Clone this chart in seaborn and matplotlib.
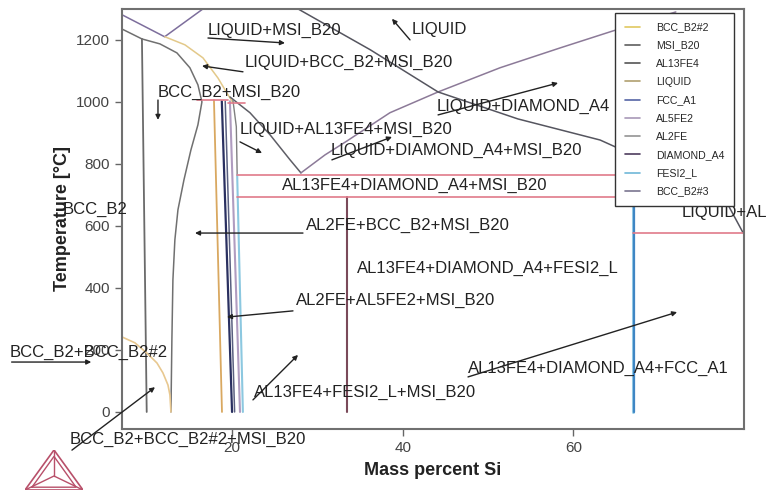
import numpy as np
import pandas as pd
import seaborn as sns
import matplotlib.pyplot as plt
from matplotlib.lines import Line2D

# ---- phase boundaries (mass percent Si, temperature in C) ----
liq_top_left_x = [7.1, 12.1, 16.6]
liq_top_left_y = [1281, 1210, 1300]
bcc_top_x = [7.1, 9.44]
bcc_top_y = [1235, 1203]
bcc_edge_x = [9.44, 10.0]
bcc_edge_y = [1203, 0]
bcc_curve_x = [9.44, 11.55, 13.54, 15.06, 16.0, 16.47, 16.0, 15.18, 14.36, 13.66, 13.3, 13.07, 12.95, 12.84]
bcc_curve_y = [1203, 1187, 1158, 1110, 1055, 1000, 926, 845, 748, 652, 555, 426, 232, 0]
bcc2_top_x = [12.13, 14.48, 16.59, 18.35, 19.52, 20.1]
bcc2_top_y = [1210, 1184, 1142, 1077, 1023, 997]
bcc2_low_x = [7.1, 8.62, 10.02, 11.2, 11.9, 12.49, 12.72, 12.84]
bcc2_low_y = [242, 223, 190, 158, 126, 87, 55, 0]
v_left_x = [19.75, 22.1, 24.45, 26.8, 28.07]
v_left_y = [1016, 965, 894, 813, 771]
diamond_liq_x = [28.07, 30.89, 33.47, 38.5, 44.14, 51.4, 58.44, 64.65, 72.0]
diamond_liq_y = [771, 829, 874, 965, 1032, 1110, 1174, 1229, 1290]
msi_liq_x = [27.72, 36.2, 44.14, 53.5, 63.13, 64.9, 78.0, 79.9]
msi_liq_y = [1300, 1168, 1032, 945, 877, 855, 674, 577]
near20_grey_x = [20.1, 20.5, 20.6]
near20_grey_y = [1006, 920, 765]

# vertical-ish compound lines near 20 % Si
orange_x = [17.88, 18.82]
orange_y = [1006, 0]
navy_x = [18.8, 20.0]
navy_y = [1002, 0]
slate_x = [19.2, 20.3]
slate_y = [1002, 0]
lavender_x = [19.75, 20.93]
lavender_y = [1002, 0]
fesi_x = [20.6, 21.27]
fesi_y = [765, 0]
al13_x = [33.5, 33.5]
al13_y = [694, 0]
si_x = [66.95, 66.95]
si_y = [765, 0]
si2_x = [67.15, 67.15]
si2_y = [765, 0]

# invariant (horizontal) lines
inv1_x = [15.9, 19.5]
inv1_y = [1006, 1006]
inv2_x = [19.5, 21.5]
inv2_y = [995, 995]
inv3_x = [20.6, 67.0]
inv3_y = [765, 765]
inv4_x = [20.6, 67.0]
inv4_y = [694, 694]
inv5_x = [67.0, 80.0]
inv5_y = [577, 577]

segments = [
    (liq_top_left_x, liq_top_left_y, "#7d6e9c", 1.1),
    (bcc_top_x, bcc_top_y, "#707070", 1.1),
    (bcc_edge_x, bcc_edge_y, "#6a6a6a", 1.3),
    (bcc_curve_x, bcc_curve_y, "#707070", 1.1),
    (bcc2_top_x, bcc2_top_y, "#e3c98a", 1.1),
    (bcc2_low_x, bcc2_low_y, "#e8c890", 1.2),
    (v_left_x, v_left_y, "#5e5e66", 1.1),
    (diamond_liq_x, diamond_liq_y, "#8c7a98", 1.1),
    (msi_liq_x, msi_liq_y, "#55555f", 1.1),
    (near20_grey_x, near20_grey_y, "#808080", 1.0),
    (orange_x, orange_y, "#d9a860", 1.3),
    (navy_x, navy_y, "#2a3060", 1.6),
    (slate_x, slate_y, "#5a6080", 1.1),
    (lavender_x, lavender_y, "#b09cc0", 1.5),
    (fesi_x, fesi_y, "#8cc8e0", 1.5),
    (al13_x, al13_y, "#7a4a5a", 1.5),
    (si_x, si_y, "#9bd0e8", 2.2),
    (si2_x, si2_y, "#3f86c4", 1.6),
    (inv1_x, inv1_y, "#e07a8a", 1.2),
    (inv2_x, inv2_y, "#e07a8a", 1.2),
    (inv3_x, inv3_y, "#e07a8a", 1.2),
    (inv4_x, inv4_y, "#e07a8a", 1.2),
    (inv5_x, inv5_y, "#e07a8a", 1.2),
]

# ---- region labels: text, left x, center y ----
label_text = ["LIQUID+MSI_B20", "LIQUID", "LIQUID+BCC_B2+MSI_B20", "BCC_B2+MSI_B20",
              "LIQUID+AL13FE4+MSI_B20", "LIQUID+DIAMOND_A4", "LIQUID+DIAMOND_A4+MSI_B20",
              "AL13FE4+DIAMOND_A4+MSI_B20", "BCC_B2", "AL2FE+BCC_B2+MSI_B20", "LIQUID+AL",
              "AL13FE4+DIAMOND_A4+FESI2_L", "AL2FE+AL5FE2+MSI_B20", "BCC_B2+BCC_B2#2",
              "AL13FE4+FESI2_L+MSI_B20", "AL13FE4+DIAMOND_A4+FCC_A1", "BCC_B2+BCC_B2#2+MSI_B20"]
label_x = [17.18, 41.09, 21.52, 11.32, 20.93, 44.02, 31.6, 25.85, 0.19, 28.66, 72.73,
           34.64, 27.49, -6.03, 22.57, 47.65, 1.0]
label_y = [1232, 1232, 1126, 1032, 910, 984, 842, 732, 652, 603, 642,
           464, 361, 193, 64, 142, -90]

# ---- pointer arrows: tail -> head ----
arrow_x0 = [17.18, 40.85, 21.28, 11.32, 20.93, 44.14, 31.7, 28.31, 27.14, -5.83, 22.45, 47.65, 1.24]
arrow_y0 = [1206, 1200, 1097, 1006, 871, 958, 813, 577, 326, 161, 39, 113, -123]
arrow_x1 = [26.2, 38.74, 16.48, 11.32, 23.51, 58.2, 38.74, 15.66, 19.4, 3.5, 27.73, 72.15, 10.97]
arrow_y1 = [1190, 1268, 1116, 942, 835, 1061, 887, 577, 306, 161, 184, 322, 80]

# ---- legend ----
legend_names = ["BCC_B2#2", "MSI_B20", "AL13FE4", "LIQUID", "FCC_A1",
                "AL5FE2", "AL2FE", "DIAMOND_A4", "FESI2_L", "BCC_B2#3"]
legend_colors = ["#e0c860", "#5f5f5f", "#555555", "#b0a070", "#5565a5",
                 "#a898b8", "#949494", "#4e3c5e", "#70b8d8", "#7a7590"]

sns.set_style("white")
plt.rcParams["font.family"] = ["Liberation Sans", "DejaVu Sans"]

fig = plt.figure(figsize=(7.69, 4.92), dpi=100)
ax = fig.add_axes([0.1586, 0.128, 0.809, 0.854])

for xs, ys, c, lw in segments:
    sns.lineplot(x=xs, y=ys, sort=False, estimator=None, color=c, linewidth=lw, ax=ax)

for t, x, y in zip(label_text, label_x, label_y):
    ax.text(x, y, t, fontsize=12, color="#222222", va="center", ha="left", zorder=5)

for x0, y0, x1, y1 in zip(arrow_x0, arrow_y0, arrow_x1, arrow_y1):
    ax.annotate("", xy=(x1, y1), xytext=(x0, y0), annotation_clip=False,
                arrowprops=dict(arrowstyle="-|>", color="#222222", lw=1.0,
                                mutation_scale=7, shrinkA=0, shrinkB=0))

ax.set_xlim(7.1, 80)
ax.set_ylim(-55, 1300)
ax.set_xticks([20, 40, 60])
ax.set_yticks([0, 200, 400, 600, 800, 1000, 1200])
ax.tick_params(axis="both", direction="out", length=5, width=1, color="#666666",
               labelsize=11, labelcolor="#444444")
ax.tick_params(axis="both", which="both", bottom=True, left=True)
for sp in ax.spines.values():
    sp.set_color("#707070")
    sp.set_linewidth(1.5)

ax.set_xlabel("Mass percent Si", fontsize=13, fontweight="bold", color="#222222", labelpad=5)
ax.set_ylabel("Temperature [°C]", fontsize=13, fontweight="bold", color="#222222", labelpad=4)

handles = [Line2D([0], [0], color=c, lw=1.2) for c in legend_colors]
leg = ax.legend(handles, legend_names, loc="upper left", bbox_to_anchor=(0.7926, 0.9905),
                fontsize=7.6, frameon=True, fancybox=False, framealpha=1,
                edgecolor="#333333", labelspacing=0.78, handlelength=1.5,
                handletextpad=1.5, borderpad=0.9, borderaxespad=0)
leg.get_frame().set_linewidth(1.0)
leg.set_zorder(10)

# Thermo-Calc style logo
logo = fig.add_axes([25 / 769, 2 / 492, 58 / 769, 40 / 492])
logo.set_xlim(0, 1)
logo.set_ylim(0, 1)
logo.axis("off")
lc = "#b8506a"
logo.plot([0, 1, 0.5, 0], [0, 0, 1, 0], color=lc, lw=1.2)
logo.plot([0.12, 0.88, 0.5, 0.12], [0.07, 0.07, 0.84, 0.07], color=lc, lw=1.0)
logo.plot([0.5, 0.5], [1, 0.35], color=lc, lw=1.0)
logo.plot([0, 0.5, 1], [0, 0.35, 0], color=lc, lw=1.0)

fig.savefig("out.png", dpi=100)
